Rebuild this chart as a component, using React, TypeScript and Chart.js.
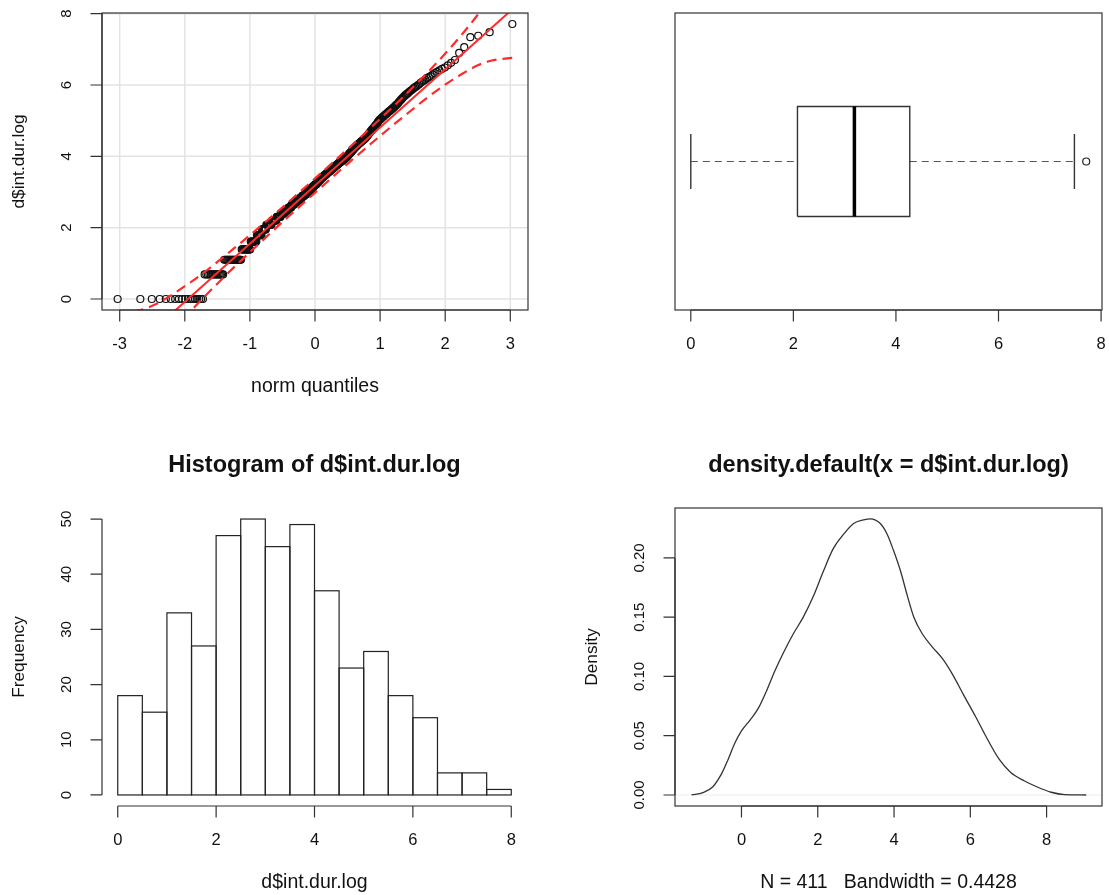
import React, { useEffect, useRef } from "react";
import { Chart, registerables } from "chart.js";

Chart.register(...registerables);

// ---------------- data ----------------
// Q-Q plot: sorted sample of d$int.dur.log (repeated values with their counts, then single values)
const qqRunValues = [
  0, 0.69, 1.1, 1.39, 1.61, 1.79, 1.95, 2.08, 2.2, 2.3, 2.4, 2.48, 2.56, 2.64, 2.71, 2.77, 2.83, 2.89,
  2.94, 2.99, 3.04, 3.09, 3.14, 3.18, 3.22, 3.26, 3.3, 3.33, 3.37, 3.4, 3.43, 3.47, 3.5, 3.53, 3.56, 3.58,
  3.61, 3.64, 3.66, 3.69, 3.71, 3.74, 3.76, 3.78, 3.81, 3.83, 3.85, 3.87, 3.89, 3.91, 3.93, 3.95, 3.97, 3.99,
];
const qqRunCounts = [
  18, 15, 20, 13, 10, 9, 8, 11, 10, 9, 9, 8, 7, 7, 7, 6, 6, 6,
  6, 5, 4, 4, 4, 4, 4, 3, 3, 3, 3, 3, 3, 4, 3, 3, 3, 3,
  2, 3, 2, 3, 2, 3, 2, 2, 3, 2, 2, 3, 2, 2, 2, 2, 1, 2,
];
const qqSingleValues = [
  4.01, 4.03, 4.04, 4.06, 4.08, 4.09, 4.09, 4.11, 4.13, 4.14, 4.16, 4.17, 4.19, 4.2, 4.22, 4.23, 4.25, 4.26,
  4.28, 4.29, 4.3, 4.32, 4.33, 4.34, 4.36, 4.37, 4.38, 4.39, 4.41, 4.42, 4.43, 4.44, 4.45, 4.47, 4.48, 4.49, 4.5,
  4.52, 4.54, 4.56, 4.58, 4.6, 4.62, 4.64, 4.66, 4.68, 4.7, 4.72, 4.74, 4.76, 4.78, 4.8, 4.82, 4.84, 4.86,
  4.88, 4.9, 4.93, 4.96, 4.99,
  5.01, 5.03, 5.04, 5.06, 5.08, 5.1, 5.11, 5.13, 5.15, 5.17, 5.18, 5.2, 5.22, 5.24, 5.26, 5.27, 5.29, 5.31,
  5.33, 5.35, 5.37, 5.39, 5.42, 5.44, 5.46, 5.49,
  5.52, 5.55, 5.58, 5.61, 5.64, 5.67, 5.7, 5.72, 5.75, 5.77, 5.8, 5.83, 5.85, 5.88, 5.91, 5.94, 5.96, 5.99,
  6.02, 6.06, 6.09, 6.12, 6.15, 6.19, 6.22, 6.25, 6.29, 6.33, 6.37, 6.41, 6.45, 6.49,
  6.55, 6.62, 6.7, 6.9, 7.06, 7.34, 7.38, 7.48, 7.71,
];
const qqLineX = [-3.3, 3.3];
const qqLineY = [-2.2, 8.56];
const qqEnvX = [-3.03, -2.7, -2.5, -2.25, -2.0, -1.75, -1.5, -1.25, -1.0, -0.5, 0, 0.5, 1.0, 1.25, 1.5, 1.75, 2.0, 2.25, 2.5, 2.7, 3.03];
const qqEnvUpper = [-0.4, -0.32, -0.19, 0.06, 0.36, 0.68, 1.04, 1.41, 1.79, 2.57, 3.38, 4.2, 5.05, 5.48, 5.93, 6.39, 6.88, 7.4, 7.97, 8.48, 9.48];
const qqEnvLower = [-3.12, -2.12, -1.61, -1.04, -0.52, -0.03, 0.43, 0.88, 1.31, 2.16, 2.98, 3.79, 4.57, 4.95, 5.32, 5.68, 6.01, 6.3, 6.55, 6.68, 6.76];
const qqXTicks = [-3, -2, -1, 0, 1, 2, 3];
const qqYTicks = [0, 2, 4, 6, 8];

// Boxplot: min whisker, Q1, median, Q3, max whisker
const boxStats = [0, 2.08, 3.19, 4.27, 7.48];
const boxOutliers = [7.71];
const boxXTicks = [0, 2, 4, 6, 8];

// Histogram
const histBreaks = [0, 0.5, 1, 1.5, 2, 2.5, 3, 3.5, 4, 4.5, 5, 5.5, 6, 6.5, 7, 7.5, 8];
const histCounts = [18, 15, 33, 27, 47, 50, 45, 49, 37, 23, 26, 18, 14, 4, 4, 1];
const histXTicks = [0, 2, 4, 6, 8];
const histYTicks = [0, 10, 20, 30, 40, 50];

// Density
const densX = [-1.31, -1.01, -0.75, -0.52, -0.35, -0.17, 0.0, 0.22, 0.44, 0.66, 0.88, 1.1, 1.36, 1.62, 1.89, 2.15, 2.41, 2.68, 2.94, 3.2, 3.38, 3.64, 3.82, 3.99, 4.17, 4.35, 4.52, 4.74, 5.0, 5.27, 5.53, 5.83, 6.14, 6.45, 6.76, 7.06, 7.41, 7.77, 8.12, 8.47, 9.04];
const densY = [0.0, 0.002, 0.007, 0.018, 0.03, 0.044, 0.054, 0.063, 0.073, 0.088, 0.105, 0.12, 0.136, 0.15, 0.168, 0.189, 0.208, 0.22, 0.229, 0.232, 0.233, 0.229, 0.22, 0.206, 0.189, 0.168, 0.15, 0.136, 0.125, 0.115, 0.102, 0.084, 0.066, 0.047, 0.03, 0.019, 0.012, 0.0065, 0.0023, 0.0003, 0.0];
const densXTicks = [0, 2, 4, 6, 8];
const densYTicks = [0, 0.05, 0.1, 0.15, 0.2];
const densYLabels = ["0.00", "0.05", "0.10", "0.15", "0.20"];

// ---------------- layout / style ----------------
const W = 1109;
const H = 895;
const FONT = '"Liberation Sans", Arial, Helvetica, sans-serif';
const TEXT = "#111";
const AXIS = "#333";
const RED = "#ff2a2a";
const TICK = 11.5;
const F_TICK_H = 16.5;
const F_TICK_V = 15;
const F_LAB_H = 19.5;
const F_LAB_V = 17.3;
const F_TITLE = 23.5;

const REGIONS = {
  qq: { left: 102, top: 13, right: 528, bottom: 310 },
  box: { left: 675, top: 13, right: 1102, bottom: 310 },
  hist: { left: 102, top: 508, right: 527, bottom: 806 },
  dens: { left: 675, top: 508, right: 1102, bottom: 806 },
};

function pad(r: { left: number; top: number; right: number; bottom: number }) {
  return { left: r.left, top: r.top, right: W - r.right, bottom: H - r.bottom };
}

// inverse standard normal CDF (theoretical quantiles for the Q-Q plot)
function qnorm(p: number): number {
  const a = [-39.69683028665376, 220.9460984245205, -275.9285104469687, 138.357751867269, -30.66479806614716, 2.506628277459239];
  const b = [-54.47609879822406, 161.5858368580409, -155.6989798598866, 66.80131188771972, -13.28068155288572];
  const c = [-0.007784894002430293, -0.3223964580411365, -2.400758277161838, -2.549732539343734, 4.374664141464968, 2.938163982698783];
  const d = [0.007784695709041462, 0.3224671290700398, 2.445134137142996, 3.754408661907416];
  const pl = 0.02425;
  if (p < pl) {
    const q = Math.sqrt(-2 * Math.log(p));
    return (((((c[0] * q + c[1]) * q + c[2]) * q + c[3]) * q + c[4]) * q + c[5]) / ((((d[0] * q + d[1]) * q + d[2]) * q + d[3]) * q + 1);
  }
  if (p <= 1 - pl) {
    const q = p - 0.5;
    const r = q * q;
    return ((((((a[0] * r + a[1]) * r + a[2]) * r + a[3]) * r + a[4]) * r + a[5]) * q) / (((((b[0] * r + b[1]) * r + b[2]) * r + b[3]) * r + b[4]) * r + 1);
  }
  const q = Math.sqrt(-2 * Math.log(1 - p));
  return -(((((c[0] * q + c[1]) * q + c[2]) * q + c[3]) * q + c[4]) * q + c[5]) / ((((d[0] * q + d[1]) * q + d[2]) * q + d[3]) * q + 1);
}

function drawText(ctx: CanvasRenderingContext2D, s: string, x: number, y: number, size: number, bold = false, vertical = false) {
  ctx.save();
  ctx.font = `${bold ? "bold " : ""}${size}px ${FONT}`;
  ctx.fillStyle = TEXT;
  ctx.textAlign = "center";
  ctx.textBaseline = "middle";
  ctx.translate(x, y);
  if (vertical) ctx.rotate(-Math.PI / 2);
  ctx.fillText(s, 0, 0);
  ctx.restore();
}

type Deco = {
  id: string;
  box?: boolean;
  grid?: boolean;
  zeroLine?: boolean;
  histOutline?: boolean;
  xTicks: number[];
  xLabels?: string[];
  yTicks?: number[];
  yLabels?: string[];
  xTitle?: string;
  yTitle?: string;
  title?: string;
};

function decoPlugin(d: Deco) {
  return {
    id: d.id,
    beforeDatasetsDraw(chart: any) {
      const { ctx, chartArea: a } = chart;
      const xs = chart.scales.x;
      const ys = chart.scales.y;
      ctx.save();
      if (d.grid) {
        ctx.strokeStyle = "rgba(0,0,0,0.11)";
        ctx.lineWidth = 1.5;
        ctx.beginPath();
        d.xTicks.forEach((v) => {
          const p = xs.getPixelForValue(v);
          ctx.moveTo(p, a.top);
          ctx.lineTo(p, a.bottom);
        });
        (d.yTicks || []).forEach((v) => {
          const p = ys.getPixelForValue(v);
          ctx.moveTo(a.left, p);
          ctx.lineTo(a.right, p);
        });
        ctx.stroke();
      }
      if (d.zeroLine) {
        const p = ys.getPixelForValue(0);
        ctx.strokeStyle = "#ececec";
        ctx.lineWidth = 1;
        ctx.beginPath();
        ctx.moveTo(a.left, p);
        ctx.lineTo(a.right, p);
        ctx.stroke();
      }
      ctx.restore();
    },
    afterDatasetsDraw(chart: any) {
      const { ctx, chartArea: a } = chart;
      const xs = chart.scales.x;
      const ys = chart.scales.y;
      ctx.save();
      ctx.setLineDash([]);
      if (d.histOutline) {
        ctx.strokeStyle = "#222";
        ctx.lineWidth = 1.2;
        chart.getDatasetMeta(0).data.forEach((el: any) => {
          const { x, y, base, width } = el.getProps(["x", "y", "base", "width"], true);
          ctx.strokeRect(x - width / 2, y, width, base - y);
        });
      }
      ctx.strokeStyle = AXIS;
      ctx.lineWidth = 1.2;
      // x axis
      const xp = d.xTicks.map((v) => xs.getPixelForValue(v));
      ctx.beginPath();
      ctx.moveTo(xp[0], a.bottom);
      ctx.lineTo(xp[xp.length - 1], a.bottom);
      xp.forEach((p) => {
        ctx.moveTo(p, a.bottom);
        ctx.lineTo(p, a.bottom + TICK);
      });
      ctx.stroke();
      xp.forEach((p, i) => drawText(ctx, d.xLabels ? d.xLabels[i] : String(d.xTicks[i]), p, a.bottom + 34, F_TICK_H));
      // y axis
      if (d.yTicks) {
        const yp = d.yTicks.map((v) => ys.getPixelForValue(v));
        ctx.beginPath();
        ctx.moveTo(a.left, yp[0]);
        ctx.lineTo(a.left, yp[yp.length - 1]);
        yp.forEach((p) => {
          ctx.moveTo(a.left, p);
          ctx.lineTo(a.left - TICK, p);
        });
        ctx.stroke();
        yp.forEach((p, i) => drawText(ctx, d.yLabels ? d.yLabels[i] : String(d.yTicks![i]), a.left - 35, p, F_TICK_V, false, true));
      }
      if (d.box) {
        ctx.strokeRect(a.left, a.top, a.right - a.left, a.bottom - a.top);
      }
      const cx = (a.left + a.right) / 2;
      const cy = (a.top + a.bottom) / 2;
      if (d.xTitle) drawText(ctx, d.xTitle, cx, a.bottom + 77, F_LAB_H);
      if (d.yTitle) drawText(ctx, d.yTitle, a.left - 83, cy, F_LAB_V, false, true);
      if (d.title) drawText(ctx, d.title, cx, a.top - 42, F_TITLE, true);
      ctx.restore();
    },
  };
}

const baseOptions = (region: any, x: any, y: any) => ({
  responsive: false,
  animation: false as const,
  events: [] as any[],
  layout: { padding: pad(region) },
  plugins: { legend: { display: false }, tooltip: { enabled: false }, title: { display: false } },
  scales: {
    x: { type: "linear" as const, display: false, ...x },
    y: { type: "linear" as const, display: false, ...y },
  },
});

const lineDs = (pts: { x: number; y: number }[], color: string, width: number, dash: number[] = [], extra: any = {}) => ({
  data: pts,
  showLine: true,
  borderColor: color,
  borderWidth: width,
  borderDash: dash,
  pointRadius: 0,
  fill: false,
  tension: 0,
  clip: 0,
  ...extra,
});

function qqConfig(): any {
  const sample: number[] = [];
  qqRunValues.forEach((v, i) => {
    for (let k = 0; k < qqRunCounts[i]; k++) sample.push(v);
  });
  qqSingleValues.forEach((v) => sample.push(v));
  const n = sample.length;
  const pts = sample.map((v, i) => ({ x: qnorm((i + 0.5) / n), y: v }));
  const line = qqLineX.map((x, i) => ({ x, y: qqLineY[i] }));
  const up = qqEnvX.map((x, i) => ({ x, y: qqEnvUpper[i] }));
  const lo = qqEnvX.map((x, i) => ({ x, y: qqEnvLower[i] }));
  return {
    type: "scatter",
    data: {
      datasets: [
        lineDs(line, RED, 2),
        lineDs(up, RED, 2.2, [10, 6], { cubicInterpolationMode: "monotone" }),
        lineDs(lo, RED, 2.2, [10, 6], { cubicInterpolationMode: "monotone" }),
        {
          data: pts,
          showLine: false,
          pointRadius: 3.5,
          pointBorderWidth: 1.2,
          pointBorderColor: "#111",
          pointBackgroundColor: "rgba(0,0,0,0)",
        },
      ],
    },
    options: baseOptions(REGIONS.qq, { min: -3.272, max: 3.272 }, { min: -0.308, max: 8.018 }),
    plugins: [
      decoPlugin({
        id: "decoQQ",
        box: true,
        grid: true,
        xTicks: qqXTicks,
        yTicks: qqYTicks,
        xTitle: "norm quantiles",
        yTitle: "d$int.dur.log",
      }),
    ],
  };
}

function boxConfig(): any {
  const [bMin, bQ1, bMed, bQ3, bMax] = boxStats;
  const C = 1;
  const HB = 0.2;
  const HS = 0.1;
  return {
    type: "scatter",
    data: {
      datasets: [
        lineDs([{ x: bMed, y: C - HB }, { x: bMed, y: C + HB }], "#000", 3.5),
        lineDs(
          [
            { x: bQ1, y: C - HB },
            { x: bQ3, y: C - HB },
            { x: bQ3, y: C + HB },
            { x: bQ1, y: C + HB },
            { x: bQ1, y: C - HB },
          ],
          "#333",
          1.4,
          [],
          { borderJoinStyle: "miter" }
        ),
        lineDs([{ x: bMin, y: C }, { x: bQ1, y: C }], "#555", 1.2, [7, 5]),
        lineDs([{ x: bQ3, y: C }, { x: bMax, y: C }], "#555", 1.2, [7, 5]),
        lineDs([{ x: bMin, y: C - HS }, { x: bMin, y: C + HS }], "#333", 1.4),
        lineDs([{ x: bMax, y: C - HS }, { x: bMax, y: C + HS }], "#333", 1.4),
        {
          data: boxOutliers.map((v) => ({ x: v, y: C })),
          showLine: false,
          pointRadius: 3.5,
          pointBorderWidth: 1.2,
          pointBorderColor: "#222",
          pointBackgroundColor: "rgba(0,0,0,0)",
        },
      ],
    },
    options: baseOptions(REGIONS.box, { min: -0.308, max: 8.018 }, { min: 0.46, max: 1.54 }),
    plugins: [decoPlugin({ id: "decoBox", box: true, xTicks: boxXTicks })],
  };
}

function histConfig(): any {
  const pts = histCounts.map((c, i) => ({ x: (histBreaks[i] + histBreaks[i + 1]) / 2, y: c }));
  return {
    type: "bar",
    data: {
      datasets: [
        {
          data: pts,
          backgroundColor: "#ffffff",
          borderWidth: 0,
          barPercentage: 1,
          categoryPercentage: 1,
          inflateAmount: 0,
        },
      ],
    },
    options: baseOptions(
      REGIONS.hist,
      {
        min: -0.32,
        max: 8.32,
        offset: false,
        afterBuildTicks: (s: any) => {
          s.ticks = histBreaks.map((v) => ({ value: v }));
        },
      },
      { min: -2, max: 52 }
    ),
    plugins: [
      decoPlugin({
        id: "decoHist",
        histOutline: true,
        xTicks: histXTicks,
        yTicks: histYTicks,
        xTitle: "d$int.dur.log",
        yTitle: "Frequency",
        title: "Histogram of d$int.dur.log",
      }),
    ],
  };
}

function densConfig(): any {
  const pts = densX.map((x, i) => ({ x, y: densY[i] }));
  return {
    type: "scatter",
    data: {
      datasets: [lineDs(pts, "#333", 1.3, [], { cubicInterpolationMode: "monotone" })],
    },
    options: baseOptions(REGIONS.dens, { min: -1.743, max: 9.453 }, { min: -0.0093, max: 0.2421 }),
    plugins: [
      decoPlugin({
        id: "decoDens",
        box: true,
        zeroLine: true,
        xTicks: densXTicks,
        yTicks: densYTicks,
        yLabels: densYLabels,
        xTitle: "N = 411   Bandwidth = 0.4428",
        yTitle: "Density",
        title: "density.default(x = d$int.dur.log)",
      }),
    ],
  };
}

export default function App() {
  const r1 = useRef<HTMLCanvasElement>(null);
  const r2 = useRef<HTMLCanvasElement>(null);
  const r3 = useRef<HTMLCanvasElement>(null);
  const r4 = useRef<HTMLCanvasElement>(null);

  useEffect(() => {
    const charts = [
      new Chart(r1.current as HTMLCanvasElement, qqConfig()),
      new Chart(r2.current as HTMLCanvasElement, boxConfig()),
      new Chart(r3.current as HTMLCanvasElement, histConfig()),
      new Chart(r4.current as HTMLCanvasElement, densConfig()),
    ];
    return () => charts.forEach((c) => c.destroy());
  }, []);

  const cs: React.CSSProperties = { position: "absolute", left: 0, top: 0, width: W, height: H };
  return (
    <div style={{ position: "absolute", left: 0, top: 0, width: W, height: H, background: "#ffffff" }}>
      <canvas ref={r1} width={W} height={H} style={cs} />
      <canvas ref={r2} width={W} height={H} style={cs} />
      <canvas ref={r3} width={W} height={H} style={cs} />
      <canvas ref={r4} width={W} height={H} style={cs} />
    </div>
  );
}
